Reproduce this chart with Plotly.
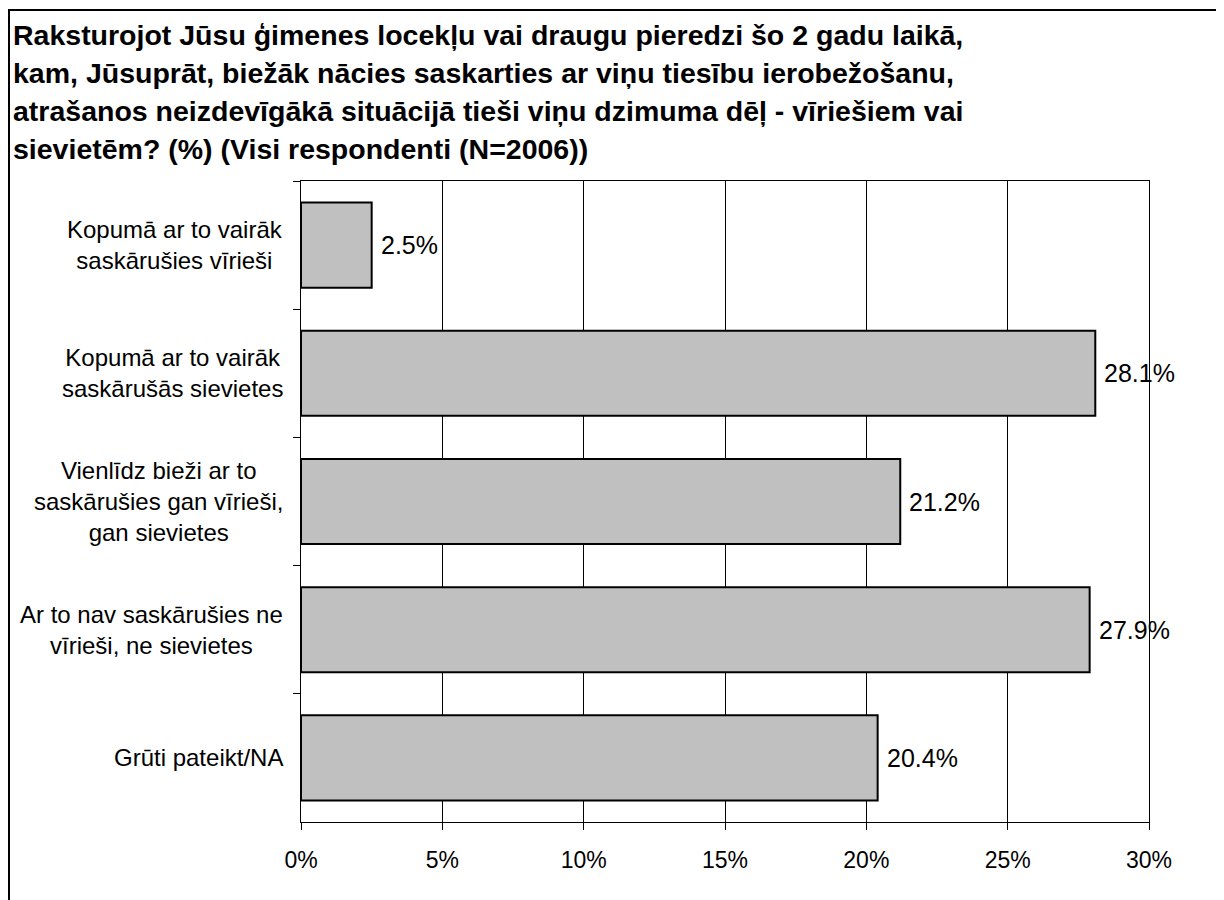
import plotly.graph_objects as go

# data
kategorijas = [
    "Kopumā ar to vairāk<br>saskārušies vīrieši",
    "Kopumā ar to vairāk<br>saskārušās sievietes",
    "Vienlīdz bieži ar to<br>saskārušies gan vīrieši,<br>gan sievietes",
    "Ar to nav saskārušies ne<br>vīrieši, ne sievietes",
    "Grūti pateikt/NA",
]
vertibas = [2.5, 28.1, 21.2, 27.9, 20.4]
virsraksts = [
    "Raksturojot Jūsu ģimenes locekļu vai draugu pieredzi šo 2 gadu laikā,",
    "kam, Jūsuprāt, biežāk nācies saskarties ar viņu tiesību ierobežošanu,",
    "atrašanos neizdevīgākā situācijā tieši viņu dzimuma dēļ - vīriešiem vai",
    "sievietēm? (%) (Visi respondenti (N=2006))",
]

OFF = 8  # page body margin shifts the figure
W, H = 1224 - OFF, 900 - OFF
L, R, T, B = 301 - OFF, 1149 - OFF, 181 - OFF, 822 - OFF
fonts = "Liberation Sans, Arial, sans-serif"


def px_x(px):
    return (px - OFF - L) / (R - L)


def px_y(py):
    return (B - (py - OFF)) / (B - T)


fig = go.Figure()
fig.add_trace(go.Bar(
    y=kategorijas, x=vertibas, orientation="h",
    marker=dict(color="#C0C0C0", line=dict(color="black", width=2)),
    hoverinfo="x+y",
))

# value labels next to the bar ends
for k, v in zip(kategorijas, vertibas):
    fig.add_annotation(x=v, xref="x", y=k, yref="y", text=f"{v:.1f}%", showarrow=False,
                       xanchor="left", xshift=7,
                       font=dict(size=25, color="black", family=fonts))

# category labels, centred like the original
for k in kategorijas:
    fig.add_annotation(x=0, xref="paper", y=k, yref="y", text=k, showarrow=False,
                       xanchor="right", xshift=-16, align="center",
                       font=dict(size=24, color="black", family=fonts))

# title, one line per annotation to keep the wide spacing
for i, line in enumerate(virsraksts):
    fig.add_annotation(x=px_x(11), xref="paper", y=px_y(35 + 38 * i), yref="paper",
                       text="<b>" + line + "</b>", showarrow=False,
                       xanchor="left", yanchor="middle",
                       font=dict(size=28.5, color="black", family=fonts))

# outer frame
fig.add_shape(type="rect", xref="paper", yref="paper",
              x0=px_x(OFF + 1), x1=px_x(1221), y0=px_y(915), y1=px_y(10),
              line=dict(color="black", width=2), fillcolor="rgba(0,0,0,0)", layer="below")

fig.update_layout(
    width=W, height=H,
    margin=dict(l=L, r=W - R, t=T, b=H - B, pad=0),
    paper_bgcolor="white", plot_bgcolor="white",
    showlegend=False, bargap=0.336,
    font=dict(family=fonts, color="black"),
)
fig.update_xaxes(range=[0, 30], dtick=5, ticksuffix="%", showgrid=True,
                 gridcolor="black", gridwidth=1, showline=True, linecolor="black",
                 linewidth=1, mirror=True, ticks="outside", ticklen=7, tickcolor="black",
                 tickfont=dict(size=23), ticklabelstandoff=10, zeroline=False)
fig.update_yaxes(autorange="reversed", showticklabels=False, showline=True,
                 linecolor="black", linewidth=1, mirror=True, ticks="outside",
                 ticklen=7, tickcolor="black", tickson="boundaries", showgrid=False)

fig.write_html("out.html")
